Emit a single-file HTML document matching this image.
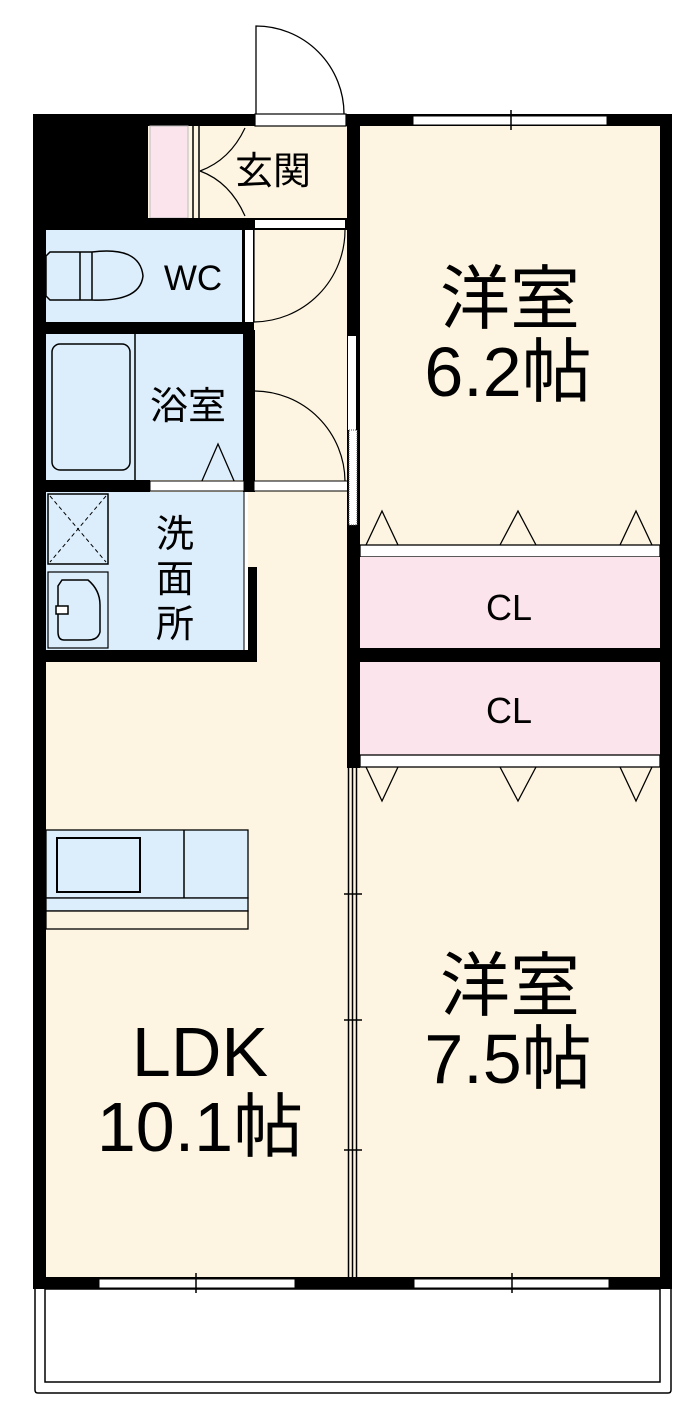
<!DOCTYPE html>
<html><head><meta charset="utf-8"><style>html,body{margin:0;padding:0;background:#fff}svg{display:block}</style></head>
<body>
<svg width="700" height="1407" viewBox="0 0 700 1407" xmlns="http://www.w3.org/2000/svg" font-family="'Liberation Sans','Noto Sans CJK JP',sans-serif">
<rect x="33" y="114" width="639" height="1175" fill="#000"/>
<rect x="46" y="126" width="614" height="1151" fill="#fdf5e1"/>
<rect x="33" y="114" width="115" height="104" fill="#000"/>
<rect x="150" y="126" width="38" height="92" fill="#fce4ec" stroke="#bbb" stroke-width="1"/>
<line x1="193" y1="126" x2="193" y2="218" stroke="#000" stroke-width="1.5"/>
<line x1="199" y1="126" x2="199" y2="218" stroke="#000" stroke-width="1.5"/>
<path d="M200 171 Q230 160 245 128 M200 171 Q230 182 245 216" fill="none" stroke="#000" stroke-width="1.2"/>
<rect x="255" y="114" width="91" height="12" fill="#fff" stroke="#000" stroke-width="1.2"/>
<path d="M256 114 V26 A88 88 0 0 1 344 114" fill="none" stroke="#000" stroke-width="1.3"/>
<rect x="46" y="218" width="301" height="12" fill="#000"/>
<rect x="255" y="220" width="90" height="8" fill="#fff"/>
<rect x="46" y="230" width="196" height="92" fill="#dceefc"/>
<rect x="242" y="226" width="12" height="108" fill="#000"/>
<rect x="245" y="230" width="8" height="92" fill="#fff"/>
<path d="M254 230 V322 A92 92 0 0 0 345 230" fill="none" stroke="#000" stroke-width="1.2"/>
<path d="M50 252 H92 V300 H50 L46 296 V256Z M92 252 Q140 246 143 276 Q140 302 92 300" fill="none" stroke="#000" stroke-width="1.5"/>
<line x1="80" y1="252" x2="80" y2="300" stroke="#000" stroke-width="1.5"/>
<text x="193" y="290" font-size="35" text-anchor="middle">WC</text>
<rect x="46" y="322" width="208" height="12" fill="#000"/>
<rect x="46" y="334" width="198" height="146" fill="#dceefc"/>
<line x1="135" y1="334" x2="135" y2="480" stroke="#000" stroke-width="1.5"/>
<rect x="52" y="344" width="78" height="126" rx="8" fill="none" stroke="#000" stroke-width="1.5"/>
<text x="188" y="419" font-size="38" text-anchor="middle">浴室</text>
<path d="M198 490 L218 444 L238 490" fill="none" stroke="#000" stroke-width="1.3"/>
<rect x="243" y="330" width="12" height="162" fill="#000"/>
<rect x="46" y="480" width="104" height="12" fill="#000"/>
<rect x="150" y="481" width="94" height="10" fill="#fff" stroke="#000" stroke-width="1"/>
<rect x="254" y="481" width="94" height="10" fill="#fff" stroke="#000" stroke-width="1"/>
<path d="M255 391 A91 91 0 0 1 345 481" fill="none" stroke="#000" stroke-width="1.2"/>
<rect x="46" y="492" width="198" height="158" fill="#dceefc"/>
<rect x="48" y="494" width="60" height="70" fill="none" stroke="#000" stroke-width="1.5"/>
<path d="M50 496 L106 562 M106 496 L50 562" stroke="#000" stroke-width="1" stroke-dasharray="4 3"/>
<rect x="48" y="572" width="60" height="76" fill="none" stroke="#000" stroke-width="1.2"/>
<path d="M62 580 H88 Q100 590 100 605 V632 Q98 640 88 640 H64 Q58 640 58 632 V586Z" fill="none" stroke="#000" stroke-width="1.5"/>
<rect x="56" y="606" width="12" height="8" fill="#fff" stroke="#000" stroke-width="1.5"/>
<text x="175" y="547" font-size="38" text-anchor="middle">洗</text>
<text x="175" y="592" font-size="38" text-anchor="middle">面</text>
<text x="175" y="637" font-size="38" text-anchor="middle">所</text>
<rect x="244" y="492" width="4" height="158" fill="#fff"/>
<line x1="244" y1="492" x2="244" y2="650" stroke="#000" stroke-width="1"/>
<rect x="248" y="567" width="9" height="95" fill="#000"/>
<rect x="46" y="650" width="211" height="12" fill="#000"/>
<rect x="347" y="114" width="13" height="654" fill="#000"/>
<rect x="348" y="336" width="8" height="94" fill="#fff"/>
<rect x="349" y="430" width="8" height="95" fill="#fff" stroke="#555" stroke-width="1" stroke-dasharray="1 1"/>
<rect x="347" y="768" width="13" height="509" fill="#fdf5e1"/>
<line x1="348.5" y1="768" x2="348.5" y2="1277" stroke="#000" stroke-width="1.5"/>
<line x1="352.5" y1="768" x2="352.5" y2="1277" stroke="#000" stroke-width="1.5"/>
<line x1="356.5" y1="768" x2="356.5" y2="1277" stroke="#000" stroke-width="1.5"/>
<path d="M344 894 H362 M344 1020 H362 M344 1150 H362" stroke="#000" stroke-width="1.5"/>
<rect x="360" y="545" width="300" height="12" fill="#fff" stroke="#000" stroke-width="1.3"/>
<rect x="360" y="557" width="300" height="91" fill="#fce4ec"/>
<rect x="360" y="648" width="312" height="14" fill="#000"/>
<rect x="360" y="662" width="300" height="93" fill="#fce4ec"/>
<rect x="360" y="755" width="300" height="12" fill="#fff" stroke="#000" stroke-width="1.3"/>
<text x="509" y="620" font-size="36" text-anchor="middle">CL</text>
<text x="509" y="723" font-size="36" text-anchor="middle">CL</text>
<path d="M366 545 L382 511 L398 545 M500 545 L518 511 L536 545 M620 545 L636 511 L652 545" fill="none" stroke="#000" stroke-width="1.3"/>
<path d="M366 767 L382 801 L398 767 M500 767 L518 801 L536 767 M620 767 L636 801 L652 767" fill="none" stroke="#000" stroke-width="1.3"/>
<rect x="413" y="116" width="194" height="9" fill="#fff" stroke="#000" stroke-width="1"/>
<line x1="511" y1="110" x2="511" y2="130" stroke="#000" stroke-width="1.5"/>
<rect x="46" y="830" width="202" height="68" fill="#dceefc" stroke="#000" stroke-width="1.3"/>
<rect x="57" y="838" width="83" height="54" fill="#dceefc" stroke="#000" stroke-width="2"/>
<line x1="184" y1="830" x2="184" y2="898" stroke="#000" stroke-width="1.5"/>
<rect x="46" y="898" width="202" height="13" fill="#dceefc" stroke="#000" stroke-width="1.3"/>
<rect x="46" y="911" width="202" height="18" fill="#fdf5e1" stroke="#000" stroke-width="1.3"/>
<rect x="99" y="1279" width="196" height="9" fill="#fff" stroke="#000" stroke-width="1"/>
<rect x="414" y="1279" width="195" height="9" fill="#fff" stroke="#000" stroke-width="1"/>
<line x1="196" y1="1273" x2="196" y2="1293" stroke="#000" stroke-width="1.5"/>
<line x1="512" y1="1273" x2="512" y2="1293" stroke="#000" stroke-width="1.5"/>
<path d="M35 1289 V1390 Q35 1393 38 1393 H668 Q671 1393 671 1390 V1289" fill="none" stroke="#000" stroke-width="1.5"/>
<rect x="45" y="1289" width="615" height="93" fill="none" stroke="#000" stroke-width="1.5"/>
<text x="273" y="184" font-size="38" text-anchor="middle">玄関</text>
<text x="510" y="323" font-size="70" text-anchor="middle">洋室</text>
<text x="508" y="396" font-size="70" text-anchor="middle">6.2帖</text>
<text x="510" y="1010" font-size="70" text-anchor="middle">洋室</text>
<text x="508" y="1083" font-size="70" text-anchor="middle">7.5帖</text>
<text x="200" y="1076" font-size="70" text-anchor="middle">LDK</text>
<text x="200" y="1151" font-size="70" text-anchor="middle">10.1帖</text>
</svg>
</body></html>
